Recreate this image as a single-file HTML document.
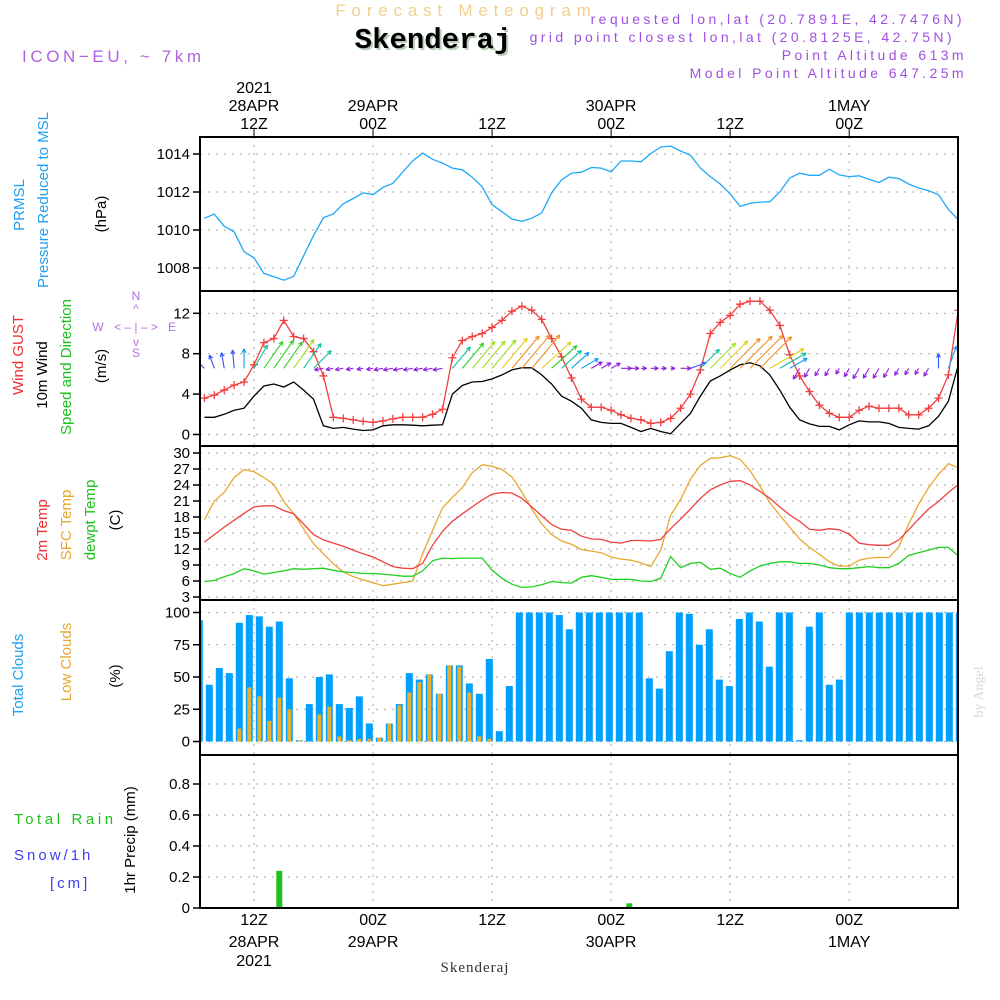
<!DOCTYPE html>
<html><head><meta charset="utf-8"><style>
html,body{margin:0;padding:0;background:#fff;width:1000px;height:1000px;overflow:hidden}
svg text{font-family:"Liberation Sans",sans-serif}
</style></head><body>
<svg id="chart" width="1000" height="1000" viewBox="0 0 1000 1000" xmlns="http://www.w3.org/2000/svg">
<defs><clipPath id="plotclip"><rect x="200" y="130" width="758" height="790"/></clipPath></defs>
<text x="466" y="16" text-anchor="middle" font-size="17" fill="#f2d08c" letter-spacing="5.8">Forecast Meteogram</text>
<text x="435" y="50" text-anchor="middle" font-size="29" font-weight="bold" fill="#b8d0b8" style="font-family:'Liberation Mono',monospace">Skenderaj</text>
<text x="433" y="48" text-anchor="middle" font-size="29" font-weight="bold" fill="#000" style="font-family:'Liberation Mono',monospace">Skenderaj</text>
<text x="22" y="62" font-size="17" fill="#b060e0" letter-spacing="3.6">ICON−EU, ~ 7km</text>
<text x="965" y="24" text-anchor="end" font-size="14" fill="#a050e0" letter-spacing="3.4">requested lon,lat (20.7891E, 42.7476N)</text>
<text x="955" y="42" text-anchor="end" font-size="14" fill="#a050e0" letter-spacing="3.4">grid point closest lon,lat (20.8125E, 42.75N)</text>
<text x="967" y="60" text-anchor="end" font-size="14" fill="#a050e0" letter-spacing="3.4">Point Altitude 613m</text>
<text x="967" y="78" text-anchor="end" font-size="14" fill="#a050e0" letter-spacing="3.4">Model Point Altitude 647.25m</text>
<g id="grid"></g>
<g id="marks" clip-path="url(#plotclip)"></g>
<g id="axes"></g>
<g id="labels">
<text transform="translate(24,205) rotate(-90)" text-anchor="middle" font-size="15" fill="#20a0f0">PRMSL</text>
<text transform="translate(48,200) rotate(-90)" text-anchor="middle" font-size="15" fill="#20a0f0">Pressure Reduced to MSL</text>
<text transform="translate(106,214) rotate(-90)" text-anchor="middle" font-size="15" fill="#000">(hPa)</text>
<text transform="translate(23,355) rotate(-90)" text-anchor="middle" font-size="15" fill="#f03030">Wind GUST</text>
<text transform="translate(47,375) rotate(-90)" text-anchor="middle" font-size="15" fill="#000">10m Wind</text>
<text transform="translate(71,367) rotate(-90)" text-anchor="middle" font-size="15" fill="#20c020">Speed and Direction</text>
<text transform="translate(106,366) rotate(-90)" text-anchor="middle" font-size="15" fill="#000">(m/s)</text>
<g fill="#b070e0" font-size="12" stroke="none">
<text x="136" y="300" text-anchor="middle">N</text><text x="136" y="357" text-anchor="middle">S</text>
<text x="98" y="331" text-anchor="middle">W</text><text x="172" y="331" text-anchor="middle">E</text>
<text x="136" y="331" text-anchor="middle" font-size="12">&lt; – | – &gt;</text>
<text x="136" y="313" text-anchor="middle">^</text><text x="136" y="346" text-anchor="middle">v</text>
</g>
<text transform="translate(47,530) rotate(-90)" text-anchor="middle" font-size="15" fill="#f03030">2m Temp</text>
<text transform="translate(71,525) rotate(-90)" text-anchor="middle" font-size="15" fill="#e8a830">SFC Temp</text>
<text transform="translate(95,520) rotate(-90)" text-anchor="middle" font-size="15" fill="#20c020">dewpt Temp</text>
<text transform="translate(120,520) rotate(-90)" text-anchor="middle" font-size="15" fill="#000">(C)</text>
<text transform="translate(23,675) rotate(-90)" text-anchor="middle" font-size="15" fill="#20a0f0">Total Clouds</text>
<text transform="translate(71,662) rotate(-90)" text-anchor="middle" font-size="15" fill="#e8a830">Low Clouds</text>
<text transform="translate(120,676) rotate(-90)" text-anchor="middle" font-size="15" fill="#000">(%)</text>
<text x="14" y="824" font-size="15" fill="#20c020" letter-spacing="3.6">Total  Rain</text>
<text x="14" y="860" font-size="15" fill="#4040f0" letter-spacing="3">Snow/1h</text>
<text x="50" y="888" font-size="15" fill="#4040f0" letter-spacing="3">[cm]</text>
<text transform="translate(135,840) rotate(-90)" text-anchor="middle" font-size="15" fill="#000">1hr Precip (mm)</text>
<text transform="translate(983,692) rotate(-90)" text-anchor="middle" font-size="14" fill="#d8d8d8" style="font-family:'Liberation Serif',serif">by Angel</text>
<text x="475" y="972" text-anchor="middle" font-size="15" fill="#333" letter-spacing="1" style="font-family:'Liberation Serif',serif">Skenderaj</text>
</g>
</svg>
<script>
const startHour = 7;
const pressure = [1010.62,1010.83,1010.2,1009.9,1008.85,1008.53,1007.72,1007.54,1007.36,1007.56,1008.64,1009.7,1010.64,1010.85,1011.38,1011.66,1011.95,1011.86,1012.25,1012.46,1013.06,1013.63,1014.05,1013.72,1013.52,1013.26,1013.17,1012.78,1012.27,1011.33,1010.96,1010.58,1010.46,1010.62,1010.9,1011.95,1012.64,1012.99,1013.04,1013.29,1013.26,1013.06,1013.63,1013.63,1013.59,1014.02,1014.37,1014.42,1014.16,1013.93,1013.26,1012.81,1012.42,1011.9,1011.24,1011.4,1011.47,1011.49,1012.0,1012.73,1012.99,1012.88,1012.88,1013.2,1012.9,1012.81,1012.85,1012.67,1012.5,1012.78,1012.71,1012.42,1012.21,1012.07,1011.86,1011.08,1010.53];
const gust = [3.6,3.9,4.4,4.9,5.2,6.9,9.1,9.5,11.3,9.7,9.5,8.2,5.8,1.7,1.6,1.45,1.3,1.2,1.35,1.55,1.7,1.7,1.7,2.0,2.5,7.6,9.3,9.7,10.0,10.6,11.3,12.2,12.7,12.3,11.4,9.5,7.7,5.6,3.5,2.7,2.7,2.4,1.95,1.6,1.45,1.1,1.2,1.6,2.6,4.0,6.4,10.0,11.1,11.8,12.9,13.2,13.2,12.3,10.8,7.9,5.8,4.25,2.9,2.1,1.7,1.7,2.4,2.8,2.6,2.6,2.6,1.95,1.95,2.6,3.6,5.9,12.3];
const wind = [1.7,1.7,2.0,2.4,2.6,3.8,4.8,5.0,4.7,5.2,4.4,3.5,0.86,0.6,0.7,0.53,0.4,0.46,0.86,0.96,0.96,0.92,0.86,0.92,0.96,4.0,4.85,5.2,5.25,5.5,5.9,6.4,6.6,6.6,5.9,5.0,3.8,3.3,2.6,1.45,1.2,1.1,1.1,0.7,0.3,0.6,0.3,0.07,1.1,2.1,3.8,5.3,5.8,6.4,6.9,7.1,6.8,5.9,4.4,2.7,1.45,1.05,0.8,0.8,0.46,0.96,1.35,1.25,1.25,1.1,0.7,0.6,0.53,0.86,1.8,3.3,6.9];
const windDir = [135,160,170,175,180,210,215,215,215,215,215,225,80,80,80,80,80,80,80,80,80,80,80,80,80,220,220,220,220,220,220,220,220,220,228,228,228,228,240,240,240,240,270,270,270,270,270,270,270,250,225,225,225,225,225,225,225,240,240,240,30,30,30,30,30,30,30,30,30,30,30,30,30,30,180,200,225];
const temp2m = [13.3,14.7,16.1,17.4,18.7,19.9,20.1,20.1,19.2,18.6,16.7,14.7,13.7,13.1,12.5,11.8,11.1,10.5,9.6,8.7,8.4,8.3,9.3,12.7,15.3,17.2,18.6,19.9,21.2,22.3,22.6,22.5,21.5,19.9,18.2,16.6,15.7,15.5,14.4,13.9,13.8,13.3,13.1,13.6,13.6,13.5,13.8,15.8,17.6,19.5,21.5,23.1,24.0,24.7,24.8,24.0,22.8,21.5,19.9,18.4,17.2,15.7,15.5,15.8,15.6,14.8,13.1,12.8,12.7,12.7,13.7,15.6,17.6,19.5,20.9,22.6,24.1];
const tempSfc = [17.5,21.0,22.6,25.4,26.9,26.5,25.4,24.1,20.9,18.6,15.8,13.0,11.1,9.2,7.7,6.8,6.2,5.7,5.1,5.4,5.7,6.0,11.1,15.5,19.7,21.7,23.5,26.3,27.8,27.5,26.9,25.5,22.7,19.5,16.7,14.7,13.5,12.9,11.9,11.6,11.3,10.5,10.1,9.9,9.4,8.7,11.8,18.3,21.3,25.1,27.7,29.0,29.1,29.5,28.8,26.7,23.8,20.7,18.3,16.1,13.9,12.3,11.0,9.6,8.8,8.8,9.9,10.3,10.4,10.4,12.4,16.7,20.4,23.5,26.0,28.0,27.2];
const dewpt = [5.9,6.1,6.8,7.4,8.3,7.9,7.3,7.6,7.9,8.3,8.2,8.3,8.4,8.0,7.7,7.6,7.4,7.4,7.3,7.1,6.9,6.9,7.9,9.8,10.3,10.2,10.3,10.3,10.3,8.0,6.5,5.4,4.8,4.9,5.3,5.9,5.7,5.6,6.7,7.0,6.7,6.3,6.3,6.3,6.0,5.9,6.5,10.6,8.5,9.3,9.5,8.2,8.4,7.4,6.7,7.9,8.8,9.3,9.6,9.6,9.3,9.3,9.0,8.5,8.3,8.3,8.5,8.7,8.5,8.5,9.3,10.8,11.3,11.8,12.3,12.3,10.7];
const totalClouds = [94,44,57,53,92,98,97,89,93,49,1,29,50,52,29,26,35,14,3,14,29,53,48,52,37,59,59,45,37,64,8,43,100,100,100,100,98,87,100,100,100,100,100,100,100,49,41,70,100,99,75,87,48,43,95,100,93,58,100,100,1,89,100,44,48,100,100,100,100,100,100,100,100,100,100,100,100];
const lowClouds = [0,0,0,0,10,42,35,16,34,25,1,0,21,27,4,1,2,2,3,14,28,38,46,52,37,59,58,38,4,2,0,0,0,0,0,0,0,0,0,0,0,0,0,0,0,0,0,0,0,0,0,0,0,0,0,0,0,0,0,0,0,0,0,0,0,0,0,0,0,0,0,0,0,0,0,0,14];
const rain = [0,0,0,0,0,0,0,0,0.24,0,0,0,0,0,0,0,0,0,0,0,0,0,0,0,0,0,0,0,0,0,0,0,0,0,0,0,0,0,0,0,0,0,0,0.03,0,0,0,0,0,0,0,0,0,0,0,0,0,0,0,0,0,0,0,0,0,0,0,0,0,0,0,0,0,0,0,0,0];
const pressTicks = [1008,1010,1012,1014];
const windTicks = [0,4,8,12];
const tempTicks = [3,6,9,12,15,18,21,24,27,30];
const cloudTicks = [0,25,50,75,100];
const precipTicks = ["0","0.2","0.4","0.6","0.8"];
const timeTicks = [12,24,36,48,60,72];
const timeTopDay = ["28APR","29APR","","30APR","","1MAY"];
const timeTopHour = ["12Z","00Z","12Z","00Z","12Z","00Z"];

const NS="http://www.w3.org/2000/svg";
const X0=200,X1=958;
const xT=h=>254+(h-12)*9.92;
const xB=h=>199.3+(h-startHour)*10;
const yP=v=>268-(v-1008)*19;
const yW=v=>434.5-v*10.1;
const yT=v=>597-(v-3)*5.333;
const yC=v=>741.5-v*1.29;
const yR=v=>908-v*155;
const panels=[[137,291],[291,446],[446,600],[600,755],[755,908]];
const grid=document.getElementById('grid'),marks=document.getElementById('marks'),axes=document.getElementById('axes');
function mk(tag,attrs,parent){const e=document.createElementNS(NS,tag);for(const k in attrs)e.setAttribute(k,attrs[k]);parent.appendChild(e);return e;}
const hourOf=i=>startHour+i;

panels.forEach((p,pi)=>{
  timeTicks.forEach(t=>{const l=mk('line',{x1:xT(t),x2:xT(t),y1:p[0],y2:p[1],stroke:'#aaa','stroke-dasharray':'2,6'},grid);
    
    });
});
function yAxis(ticks,fn,p,name){
  ticks.forEach(t=>{const v=parseFloat(t);const y=fn(v);
    const g=mk('line',{x1:X0,x2:X1,y1:y,y2:y,stroke:'#aaa','stroke-dasharray':'2,6'},grid);
    
    
    const tk=mk('line',{x1:X0-7,x2:X0,y1:y,y2:y,stroke:'#000','stroke-width':1.5},axes);
    
    
    const tx=mk('text',{x:X0-10,y:y+5,'text-anchor':'end','font-size':15,fill:'#000'},axes);
    
    
    tx.textContent=t;});
}
yAxis(pressTicks,yP,panels[0],'pressure');
yAxis(windTicks,yW,panels[1],'wind');
yAxis(tempTicks,yT,panels[2],'temp');
yAxis(cloudTicks,yC,panels[3],'cloud');
yAxis(precipTicks,yR,panels[4],'precip');

function line(arr,xf,yf,color,name){
  const pts=arr.map((v,i)=>xf(hourOf(i)).toFixed(1)+','+yf(v).toFixed(1)).join(' ');
  const l=mk('polyline',{points:pts,fill:'none',stroke:color,'stroke-width':1.3},marks);
  
  
}
totalClouds.forEach((v,i)=>{const x=xB(hourOf(i));
  const r=mk('rect',{x:x-3.5,y:yC(v),width:7,height:yC(0)-yC(v),fill:'#00a0ff'},marks);
  
  
  const lv=lowClouds[i];
  const r2=mk('rect',{x:x-2,y:yC(lv),width:4,height:yC(0)-yC(lv),fill:'#e8b030'},marks);
  
  
});
rain.forEach((v,i)=>{if(v<=0)return;const x=xB(hourOf(i));
  const r=mk('rect',{x:x-3,y:yR(v),width:6,height:yR(0)-yR(v),fill:'#20c020'},marks);
  
  });
line(pressure,xT,yP,'#20a8f8','pressure-line');
line(tempSfc,xT,yT,'#e8a830','sfc-temp-line');
line(temp2m,xT,yT,'#f04040','temp-2m-line');
line(dewpt,xT,yT,'#20d020','dewpt-line');
line(wind,xT,yW,'#000','wind-speed-line');
line(gust,xT,yW,'#f04040','gust-line');
gust.forEach((v,i)=>{const x=xT(hourOf(i)),y=yW(v);
  const c=mk('path',{d:`M${x-4},${y}h8M${x},${y-4}v8`,stroke:'#f04040','stroke-width':1.3},marks);
  
  });
function wcol(s){if(s<1.5)return '#9020e0';if(s<2.5)return '#3050ff';if(s<3.5)return '#10a0f0';if(s<4.5)return '#10c0a0';if(s<5.2)return '#30d020';if(s<5.8)return '#a0e020';if(s<6.3)return '#e0d020';return '#f09020';}
wind.forEach((s,i)=>{const x=xT(hourOf(i)),y=yW(6.55);
  const to=(windDir[i]+180)*Math.PI/180,len=4+s*6;
  const dx=Math.sin(to)*len,dy=-Math.cos(to)*len;const tx=x+dx,ty=y+dy;
  const a1=to+Math.PI-0.45,a2=to+Math.PI+0.45,hl=4.5;
  const d=`M${x},${y}L${tx},${ty}M${tx},${ty}L${tx+Math.sin(a1)*hl},${ty-Math.cos(a1)*hl}M${tx},${ty}L${tx+Math.sin(a2)*hl},${ty-Math.cos(a2)*hl}`;
  const p=mk('path',{d:d,stroke:wcol(s),'stroke-width':1.1,fill:'none'},marks);
  
  });
panels.forEach(p=>{const r=mk('rect',{x:X0,y:p[0],width:X1-X0,height:p[1]-p[0],fill:'none',stroke:'#000','stroke-width':2},axes);
  
  });
timeTicks.forEach((t,i)=>{const x=xT(t);
  const tk=mk('line',{x1:x,x2:x,y1:129,y2:137,stroke:'#000'},axes);
  
  
  const a=mk('text',{x:x,y:129,'text-anchor':'middle','font-size':16,fill:'#000'},axes);
  
  
  a.textContent=timeTopHour[i];
  if(timeTopDay[i]){const b=mk('text',{x:x,y:111,'text-anchor':'middle','font-size':16,fill:'#000'},axes);
    
    
    b.textContent=timeTopDay[i];}
  const c=mk('text',{x:x,y:925,'text-anchor':'middle','font-size':16,fill:'#000'},axes);
  
  
  c.textContent=timeTopHour[i];
  if(timeTopDay[i]){const d=mk('text',{x:x,y:947,'text-anchor':'middle','font-size':16,fill:'#000'},axes);
    
    
    d.textContent=timeTopDay[i];}
});
const y1=mk('text',{x:xT(12),y:93,'text-anchor':'middle','font-size':16,fill:'#000'},axes);


y1.textContent='2021';
const y2=mk('text',{x:xT(12),y:966,'text-anchor':'middle','font-size':16,fill:'#000'},axes);


y2.textContent='2021';
</script>
</body></html>
